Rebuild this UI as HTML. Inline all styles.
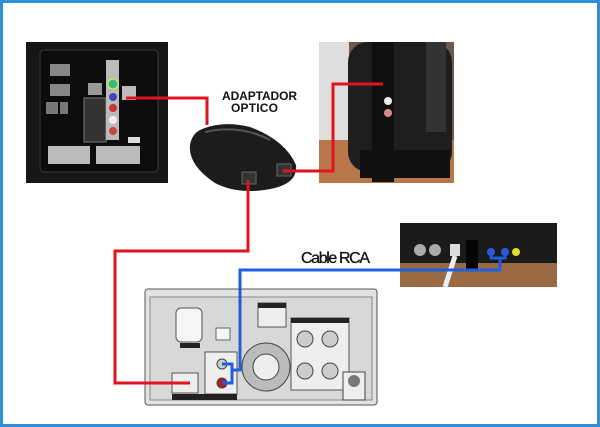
<!DOCTYPE html>
<html><head><meta charset="utf-8"><style>
html,body{margin:0;padding:0;background:#fff}
svg{display:block}
</style></head><body>
<svg width="600" height="427" viewBox="0 0 600 427" xmlns="http://www.w3.org/2000/svg">
<rect x="1.5" y="1.5" width="597" height="424" fill="#fff" stroke="#2f8fd8" stroke-width="3"/>

<!-- TV back panel -->
<rect x="26" y="42" width="142" height="141" fill="#161616"/>
<rect x="40" y="50" width="118" height="122" rx="4" fill="#0c0c0c" stroke="#3a3a3a"/>
<rect x="50" y="64" width="20" height="12" fill="#888"/>
<rect x="50" y="84" width="20" height="12" fill="#888"/>
<rect x="46" y="102" width="12" height="12" fill="#777"/>
<rect x="60" y="102" width="8" height="12" fill="#777"/>
<rect x="88" y="83" width="14" height="12" fill="#999"/>
<rect x="84" y="98" width="22" height="44" fill="#333" stroke="#777"/>
<rect x="106" y="60" width="13" height="80" fill="#bbb"/>
<circle cx="113" cy="84" r="5" fill="#3b8" stroke="#ee3"/>
<circle cx="113" cy="97" r="4" fill="#44b"/>
<circle cx="113" cy="108" r="4" fill="#c33"/>
<circle cx="113" cy="120" r="4" fill="#eee"/>
<circle cx="113" cy="131" r="4" fill="#c44"/>
<rect x="122" y="86" width="14" height="14" fill="#bbb"/>
<rect x="48" y="146" width="42" height="18" fill="#bbb"/>
<rect x="96" y="146" width="44" height="18" fill="#bbb"/>
<rect x="128" y="137" width="12" height="6" fill="#ddd"/>

<!-- Headphone photo -->
<rect x="319" y="42" width="135" height="141" fill="#6b5a4d"/>
<rect x="319" y="42" width="30" height="100" fill="#ddd"/>
<rect x="319" y="140" width="135" height="43" fill="#b9764a"/>
<rect x="348" y="42" width="104" height="130" rx="20" fill="#1e1e1e"/>
<rect x="372" y="42" width="22" height="140" fill="#101010"/>
<rect x="360" y="150" width="90" height="28" fill="#111"/>
<circle cx="388" cy="101" r="4" fill="#eee"/>
<circle cx="388" cy="113" r="4" fill="#d88"/>
<rect x="426" y="42" width="20" height="90" fill="#333"/>

<!-- Adapter -->
<path d="M200 130 Q222 120 250 127 Q285 140 296 165 Q298 182 275 188 Q240 196 215 183 Q188 165 190 145 Q192 134 200 130Z" fill="#1c1c1c"/>
<path d="M205 132 Q240 124 270 140" stroke="#555" stroke-width="2" fill="none"/>
<rect x="242" y="172" width="14" height="12" fill="#333" stroke="#666"/>
<rect x="277" y="164" width="14" height="12" fill="#333" stroke="#666"/>

<!-- Text -->
<text x="222" y="100" font-family="Liberation Sans, sans-serif" font-size="12" font-weight="bold" fill="#111" textLength="75">ADAPTADOR</text>
<text x="231" y="112" font-family="Liberation Sans, sans-serif" font-size="12" font-weight="bold" fill="#111" textLength="47">OPTICO</text>
<text x="301" y="263" font-family="Liberation Sans, sans-serif" font-size="16" fill="#111" stroke="#111" stroke-width="0.3" textLength="69">Cable RCA</text>

<!-- RCA box -->
<rect x="400" y="223" width="157" height="64" fill="#9a6a45"/>
<rect x="400" y="223" width="157" height="40" fill="#1b1b1b"/>
<circle cx="420" cy="250" r="6" fill="#aaa"/>
<circle cx="435" cy="250" r="6" fill="#aaa"/>
<rect x="450" y="244" width="10" height="12" fill="#ddd"/>
<rect x="466" y="240" width="12" height="30" fill="#050505"/>
<circle cx="491" cy="252" r="4" fill="#3355dd"/>
<circle cx="505" cy="252" r="4" fill="#3355dd"/>
<circle cx="516" cy="252" r="4" fill="#dd3"/>
<path d="M455 256 L445 287" stroke="#eee" stroke-width="5"/>

<!-- Stereo unit -->
<rect x="145" y="289" width="232" height="116" rx="3" fill="#e2e2e2" stroke="#555"/>
<rect x="150" y="297" width="222" height="103" fill="#d8d8d8" stroke="#888"/>
<rect x="176" y="308" width="26" height="34" rx="5" fill="#f5f5f5" stroke="#555"/>
<rect x="180" y="343" width="20" height="5" fill="#222"/>
<rect x="216" y="328" width="14" height="12" fill="#f5f5f5" stroke="#666"/>
<rect x="258" y="303" width="28" height="24" fill="#eee" stroke="#555"/>
<rect x="258" y="303" width="28" height="5" fill="#222"/>
<circle cx="266" cy="367" r="24" fill="#bbb" stroke="#444"/>
<circle cx="266" cy="367" r="13" fill="#eee" stroke="#444"/>
<rect x="291" y="318" width="58" height="72" fill="#eee" stroke="#555"/>
<rect x="291" y="318" width="58" height="5" fill="#222"/>
<circle cx="305" cy="339" r="8" fill="#ccc" stroke="#444"/>
<circle cx="330" cy="339" r="8" fill="#ccc" stroke="#444"/>
<circle cx="305" cy="371" r="8" fill="#ccc" stroke="#444"/>
<circle cx="330" cy="371" r="8" fill="#ccc" stroke="#444"/>
<rect x="343" y="372" width="22" height="28" fill="#eee" stroke="#444"/>
<circle cx="354" cy="381" r="6" fill="#777"/>
<rect x="172" y="373" width="26" height="20" fill="#eee" stroke="#555"/>
<rect x="205" y="352" width="32" height="42" fill="#eee" stroke="#555"/>
<rect x="172" y="394" width="65" height="6" fill="#222"/>
<circle cx="222" cy="364" r="5" fill="#ccc" stroke="#444"/>
<circle cx="222" cy="383" r="5" fill="#a22" stroke="#444"/>

<!-- Red cables -->
<polyline points="126,98 207,98 207,125" fill="none" stroke="#e0141e" stroke-width="3"/>
<polyline points="283,171 333,171 333,84 383,84" fill="none" stroke="#e0141e" stroke-width="3"/>
<polyline points="248,180 248,251 115,251 115,383 190,383" fill="none" stroke="#e0141e" stroke-width="3"/>

<!-- Blue cables -->
<polyline points="491,252 491,258 505,258 505,252" fill="none" stroke="#1f5ee0" stroke-width="3"/>
<polyline points="500,258 500,270 240,270 240,370 232,370 232,364 222,364" fill="none" stroke="#1f5ee0" stroke-width="3"/>
<polyline points="232,370 232,383 222,383" fill="none" stroke="#1f5ee0" stroke-width="3"/>
</svg>
</body></html>
